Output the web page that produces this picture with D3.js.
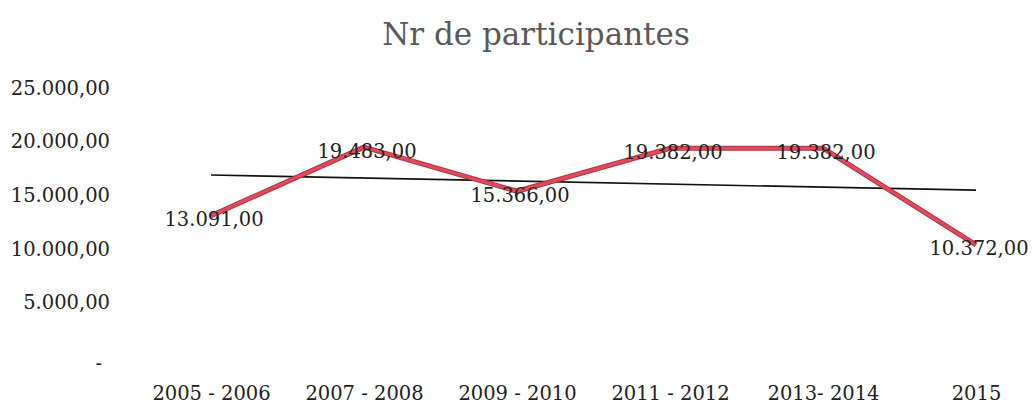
<!DOCTYPE html>
<html><head><meta charset="utf-8">
<script src="https://cdn.jsdelivr.net/npm/d3@7"></script>
<style>body{margin:0;background:#fff}svg{display:block}</style>
</head><body>
<svg id="c" width="1034" height="410"></svg>
<script>
const categories = ["2005 - 2006","2007 - 2008","2009 - 2010","2011 - 2012","2013- 2014","2015"];
const participants = [13091,19483,15366,19382,19382,10372];
const yTicks = [0,5000,10000,15000,20000,25000];
const title = "Nr de participantes";

const W=1034,H=410;
const svg=d3.select("#c");
const font="'DejaVu Serif', serif";
const loc=d3.formatLocale({decimal:",",thousands:".",grouping:[3],currency:["",""]});
const fmt=loc.format(",.2f");
const lab=v=>v===0?"-":fmt(v);

const x=d3.scalePoint().domain(categories).range([211,976]);
const y=d3.scaleLinear().domain([0,25000]).range([356,88]);

svg.append("text").attr("x",536).attr("y",45).attr("text-anchor","middle")
  .attr("font-family",font).attr("font-size",31).attr("fill","#595959").text(title);

// y axis
const ya=svg.append("g").attr("transform","translate(110,0)")
  .call(d3.axisLeft(y).tickValues(yTicks).tickFormat(lab).tickSize(0).tickPadding(0));
ya.select(".domain").remove();
ya.selectAll("text").attr("font-family",font).attr("font-size",19.5).attr("fill","#222");
ya.selectAll(".tick").filter(d=>d===0).select("text").attr("dx",-8).attr("dy","0.7em");

// x axis
const xa=svg.append("g").attr("transform","translate(0,386)")
  .call(d3.axisBottom(x).tickSize(0).tickPadding(0));
xa.select(".domain").remove();
xa.selectAll("text").attr("font-family",font).attr("font-size",19.5).attr("fill","#222");

// trendline (linear regression over category index)
const n=participants.length;
const xs=participants.map((_,i)=>i+1);
const mx=d3.mean(xs), my=d3.mean(participants);
const slope=d3.sum(xs.map((xi,i)=>(xi-mx)*(participants[i]-my)))/d3.sum(xs.map(xi=>(xi-mx)**2));
const icpt=my-slope*mx;
const trend=[[categories[0],icpt+slope*1],[categories[n-1],icpt+slope*n]];
svg.append("path").datum(trend)
  .attr("d",d3.line().x(d=>x(d[0])).y(d=>y(d[1])))
  .attr("fill","none").attr("stroke","#111").attr("stroke-width",1.6);

// series line
const data=categories.map((c,i)=>({c,v:participants[i]}));
const line=d3.line().x(d=>x(d.c)).y(d=>y(d.v));
svg.append("path").datum(data).attr("d",line).attr("fill","none")
  .attr("stroke","#b8323f").attr("stroke-width",5).attr("stroke-linejoin","round");
svg.append("path").datum(data).attr("d",line).attr("fill","none")
  .attr("stroke","#dc4c5e").attr("stroke-width",3).attr("stroke-linejoin","round");

// labels
svg.append("g").selectAll("text").data(data).join("text")
  .attr("x",d=>x(d.c)+3).attr("y",d=>y(d.v)+4)
  .attr("text-anchor","middle").attr("dominant-baseline","central")
  .attr("font-family",font).attr("font-size",19.5).attr("fill","#222")
  .text(d=>fmt(d.v));
</script>
</body></html>
